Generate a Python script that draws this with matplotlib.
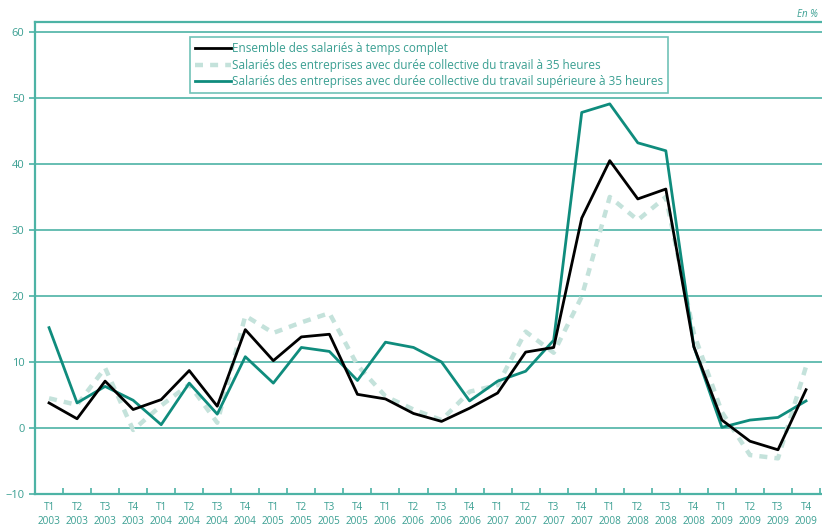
import matplotlib
matplotlib.use("Agg")
from matplotlib import pyplot as plt

# quarters T1 2003 .. T4 2009
quarters = [f"T{q}\n{y}" for y in range(2003, 2010) for q in range(1, 5)]

ensemble = [3.8, 1.4, 7.1, 2.8, 4.3, 8.7, 3.3, 14.9, 10.2, 13.8, 14.2, 5.1,
            4.4, 2.2, 1.0, 3.0, 5.3, 11.5, 12.2, 31.8, 40.5, 34.7, 36.2, 12.3,
            1.2, -2.0, -3.3, 5.8]
duree_35h = [4.5, 3.5, 9.1, -0.3, 3.4, 6.6, 0.8, 17.0, 14.4, 16.0, 17.4, 9.5,
             4.8, 2.8, 1.2, 5.5, 6.5, 14.6, 11.4, 19.9, 35.0, 31.5, 35.0, 14.3,
             2.4, -4.1, -4.6, 9.3]
duree_sup35h = [15.2, 3.8, 6.3, 4.2, 0.5, 6.8, 2.1, 10.8, 6.8, 12.2, 11.6, 7.2,
                13.0, 12.2, 10.0, 4.1, 7.1, 8.6, 13.3, 47.8, 49.1, 43.2, 42.0, 12.3,
                0.1, 1.2, 1.6, 4.1]

labels = ["Ensemble des salariés à temps complet",
          "Salariés des entreprises avec durée collective du travail à 35 heures",
          "Salariés des entreprises avec durée collective du travail supérieure à 35 heures"]

TEAL = "#0f8c7d"
GRID = "#4db3a5"
TXT = "#3a9f92"
LIGHT = "#c4e2db"

plt.rcParams["font.family"] = ["Open Sans", "DejaVu Sans"]

fig = plt.figure(figsize=(8.22, 5.27), dpi=100)
ax = fig.add_axes([0.0426, 0.0626, 0.9574, 0.8956])

x = list(range(len(quarters)))
ax.plot(x, ensemble, color="black", lw=2.0, label=labels[0], zorder=4)
ax.plot(x, duree_35h, color=LIGHT, lw=3.2, ls=(0, (1.8, 1.6)), label=labels[1], zorder=2)
ax.plot(x, duree_sup35h, color=TEAL, lw=2.0, label=labels[2], zorder=3)

ax.set_xlim(-0.5, 27.57)
ax.set_ylim(-10, 61.5)
ax.set_yticks(range(-10, 61, 10))
ax.yaxis.grid(True, color=GRID, lw=1.2)
ax.set_axisbelow(True)

ax.set_xticks(x)
ax.set_xticklabels(quarters, fontsize=7.2, color=TXT, linespacing=1.35)
ax.tick_params(axis="x", length=0, pad=6)
ax.set_xticks([i - 0.5 for i in range(1, 29)], minor=True)
ax.tick_params(axis="x", which="minor", length=4, direction="in", color=GRID, width=1.2)
ax.tick_params(axis="y", labelsize=8, labelcolor=TXT, color=GRID, length=4, width=1.2)

for side in ["left", "bottom", "top"]:
    ax.spines[side].set_color(GRID)
    ax.spines[side].set_linewidth(1.6)
ax.spines["right"].set_visible(False)

leg = ax.legend(loc="upper left", bbox_to_anchor=(0.19, 0.98), fontsize=8.5,
                frameon=True, fancybox=False, handlelength=3.0, handletextpad=0.1,
                borderpad=0.4, labelspacing=0.3, labelcolor=TXT)
leg.get_frame().set_edgecolor(GRID)
leg.get_frame().set_linewidth(1.2)

fig.text(0.995, 0.972, "En %", ha="right", va="center", fontsize=7,
         style="italic", color=TXT)

fig.savefig("out.png", dpi=100)
